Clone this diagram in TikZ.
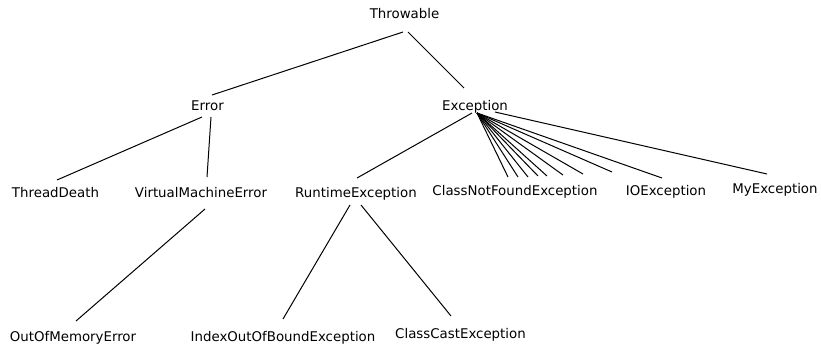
\documentclass[tikz,border=0pt]{standalone}
\usepackage{fontspec}
\setmainfont{DejaVu Sans}
\usetikzlibrary{calc}

\begin{document}
\begin{tikzpicture}[every node/.style={anchor=base, inner sep=0pt},
                    edge/.style={line width=0.025cm}]
                        \useasboundingbox (0,0) rectangle (20.525000,8.625000);
                        {\fontsize{9.5}{11}\selectfont

                        % Marking node Throwable
                        \node (Throwable) at (10.112500,8.150000) {Throwable};%

                        % Marking node Error
                        \node (Error) at (5.187500,5.875000) {Error};%

                        % Marking node Exception
                        \node (Exception) at (11.875000,5.875000) {Exception};%

                        % Marking node ThreadDeath
                        \node (ThreadDeath) at (1.387500,3.700000) {ThreadDeath};%

                        % Marking node VirtualMachineError
                        \node (VMError) at (5.025000,3.700000) {VirtualMachineError};%

                        % Marking node RuntimeException
                        \node (Runtime) at (8.900000,3.700000) {RuntimeException};%

                        % Marking node ClassNotFoundException
                        \node (ClassNotFound) at (12.875000,3.750000) {ClassNotFoundException};%

                        % Marking node IOException
                        \node (IOEx) at (16.650000,3.750000) {IOException};%

                        % Marking node MyException
                        \node (MyEx) at (19.375000,3.800000) {MyException};%

                        % Marking node OutOfMemoryError
                        \node (OutOfMemory) at (1.825000,0.100000) {OutOfMemoryError};%

                        % Marking node IndexOutOfBoundException
                        \node (IndexOOB) at (7.075000,0.100000) {IndexOutOfBoundException};%

                        % Marking node ClassCastException
                        \node (ClassCast) at (11.512500,0.175000) {ClassCastException};%

                        % Drawing line Throwable--Error
                        \draw [edge] ($(Throwable.base)+(-0.037500,-0.325000)$) -- ($(Error.base)+(0.112500,0.375000)$);%

                        % Drawing line Throwable--Exception
                        \draw [edge] ($(Throwable.base)+(0.087500,-0.325000)$) -- ($(Exception.base)+(-0.275000,0.550000)$);%

                        % Drawing line Error--ThreadDeath
                        \draw [edge] ($(Error.base)+(-0.137500,-0.175000)$) -- ($(ThreadDeath.base)+(0.037500,0.425000)$);%

                        % Drawing line Error--VirtualMachineError
                        \draw [edge] ($(Error.base)+(0.087500,-0.175000)$) -- ($(VMError.base)+(0.150000,0.500000)$);%

                        % Drawing line VirtualMachineError--OutOfMemoryError
                        \draw [edge] ($(VMError.base)+(0.100000,-0.300000)$) -- ($(OutOfMemory.base)+(0.075000,0.500000)$);%

                        % Drawing line Exception--RuntimeException
                        \draw [edge] ($(Exception.base)+(-0.075000,-0.075000)$) -- ($(Runtime.base)+(0.025000,0.475000)$);%

                        % Drawing line RuntimeException--IndexOutOfBoundException
                        \draw [edge] ($(Runtime.base)+(-0.150000,-0.200000)$) -- ($(IndexOOB.base)+(0.000000,0.550000)$);%

                        % Drawing line RuntimeException--ClassCastException
                        \draw [edge] ($(Runtime.base)+(0.125000,-0.200000)$) -- ($(ClassCast.base)+(-0.237500,0.550000)$);%

                        % Drawing lines Exception--ClassNotFoundException
                        \draw [edge] ($(Exception.base)+(0.050000,-0.075000)$) -- ($(ClassNotFound.base)+(-0.175000,0.450000)$);%
                        \draw [edge] ($(Exception.base)+(0.050000,-0.075000)$) -- ($(ClassNotFound.base)+(0.075000,0.450000)$);%
                        \draw [edge] ($(Exception.base)+(0.050000,-0.075000)$) -- ($(ClassNotFound.base)+(0.325000,0.450000)$);%
                        \draw [edge] ($(Exception.base)+(0.050000,-0.075000)$) -- ($(ClassNotFound.base)+(0.575000,0.475000)$);%
                        \draw [edge] ($(Exception.base)+(0.050000,-0.075000)$) -- ($(ClassNotFound.base)+(0.800000,0.475000)$);%
                        \draw [edge] ($(Exception.base)+(0.050000,-0.075000)$) -- ($(ClassNotFound.base)+(1.200000,0.500000)$);%
                        \draw [edge] ($(Exception.base)+(0.050000,-0.075000)$) -- ($(ClassNotFound.base)+(1.700000,0.525000)$);%
                        \draw [edge] ($(Exception.base)+(0.050000,-0.075000)$) -- ($(ClassNotFound.base)+(2.425000,0.575000)$);%

                        % Drawing line Exception--IOException
                        \draw [edge] ($(Exception.base)+(0.050000,-0.075000)$) -- ($(IOEx.base)+(-0.100000,0.425000)$);%

                        % Drawing line Exception--MyException
                        \draw [edge] ($(Exception.base)+(0.500000,-0.050000)$) -- ($(MyEx.base)+(-0.200000,0.475000)$);%
                        }
\end{tikzpicture}
\end{document}
